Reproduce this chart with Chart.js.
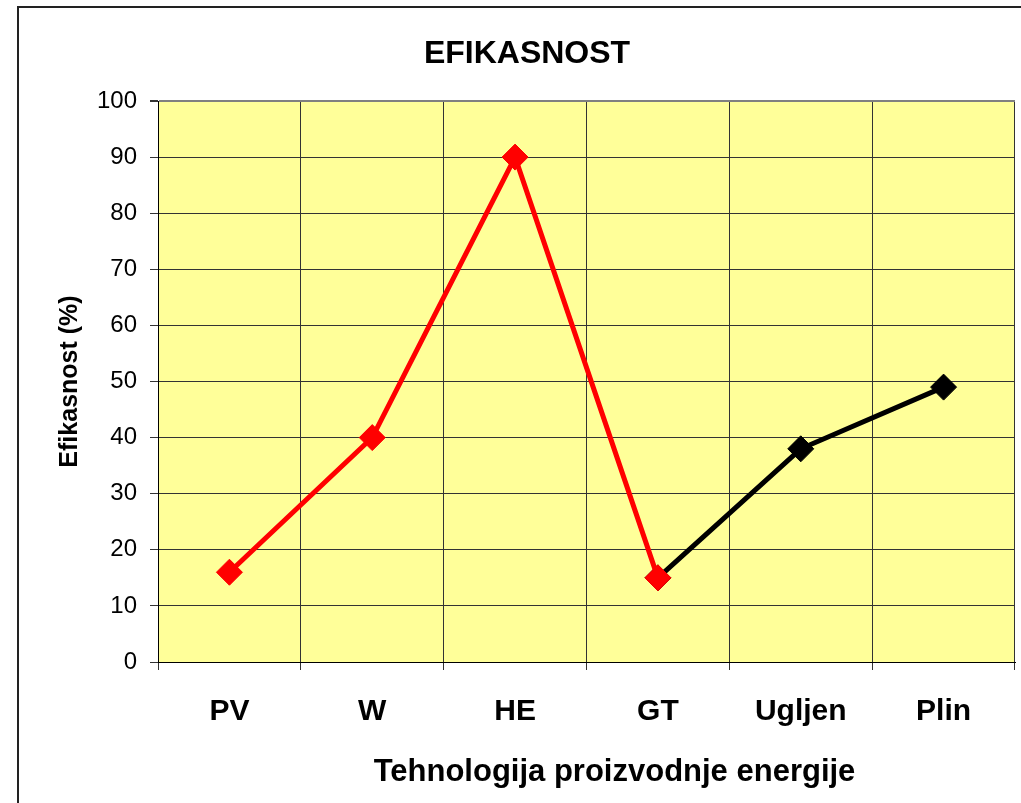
<!DOCTYPE html>
<html>
<head>
<meta charset="utf-8">
<title>Efikasnost</title>
<script src="https://cdn.jsdelivr.net/npm/chart.js@4.4.1/dist/chart.umd.min.js"></script>
<style>
  html, body { margin: 0; padding: 0; background: #fff; overflow: hidden; }
  #okvir { position: absolute; left: 17px; top: 6px; width: 1100px; height: 900px; border: 2px solid #222; }
  #graf { position: absolute; left: 0; top: 0; }
</style>
</head>
<body>
<div id="okvir"></div>
<canvas id="graf" width="1054" height="803"></canvas>
<script>
// podaci
var tehnologije = ["PV", "W", "HE", "GT", "Ugljen", "Plin"];
var obnovljivi = [16, 40, 90, 15, null, null];
var fosilni = [null, null, null, 15, 38, 49];
var yTicks = [0, 10, 20, 30, 40, 50, 60, 70, 80, 90, 100];

var font = "'Liberation Sans', Arial, sans-serif";

/* zuta pozadina podrucja grafa */
var pozadina = {
    id: "pozadina",
    beforeDraw: function (chart) {
        var a = chart.chartArea, ctx = chart.ctx;
        ctx.save();
        ctx.fillStyle = "#FFFF99";
        ctx.fillRect(a.left, a.top, a.right - a.left, a.bottom - a.top);
        ctx.restore();
    }
};

/* naslov grafa i naslov x osi - centrirani na cijeli okvir kao u Excelu */
var naslovi = {
    id: "naslovi",
    afterDraw: function (chart) {
        var a = chart.chartArea, ctx = chart.ctx;
        ctx.save();
        ctx.fillStyle = "#000";
        ctx.textAlign = "center";
        ctx.textBaseline = "alphabetic";
        ctx.font = "bold 32px " + font;
        ctx.fillText("EFIKASNOST", chart.width / 2, 63);
        ctx.font = "bold 31px " + font;
        ctx.fillText("Tehnologija proizvodnje energije", (a.left + a.right) / 2 + 28, 781);
        ctx.restore();
    }
};

var ctx = document.getElementById("graf");
var myChart = new Chart(ctx, {
    type: "line",
    data: {
        labels: tehnologije,
        datasets: [{
            label: "obnovljivi",
            data: obnovljivi,
            borderColor: "#FF0000",
            backgroundColor: "#FF0000",
            borderWidth: 5,
            pointStyle: "rectRot",
            pointRadius: 13,
            pointHoverRadius: 13,
            pointBorderWidth: 1,
            tension: 0,
            spanGaps: false
        }, {
            label: "fosilni",
            data: fosilni,
            borderColor: "#000000",
            backgroundColor: "#000000",
            borderWidth: 5,
            pointStyle: "rectRot",
            pointRadius: 13,
            pointHoverRadius: 13,
            pointBorderWidth: 1,
            tension: 0,
            spanGaps: false
        }]
    },
    options: {
        responsive: false,
        animation: false,
        layout: { padding: { left: 0, right: 39, top: 101, bottom: 0 } },
        plugins: {
            legend: { display: false },
            tooltip: { enabled: false },
            title: { display: false }
        },
        scales: {
            x: {
                offset: true,
                afterFit: function (s) { s.height = 141; },
                border: { color: "#000", width: 1 },
                grid: {
                    offset: true,
                    tickLength: 8,
                    color: function (c) { return c.index === tehnologije.length ? "#808080" : "#333"; },
                    lineWidth: function (c) { return c.index === tehnologije.length ? 2 : 1; },
                    tickColor: "#333"
                },
                ticks: {
                    color: "#000",
                    padding: 24,
                    font: { family: font, size: 30, weight: "bold" }
                }
            },
            y: {
                min: 0,
                max: 100,
                afterFit: function (s) { s.width = 158; },
                afterBuildTicks: function (s) { s.ticks = yTicks.map(function (v) { return { value: v }; }); },
                border: { color: "#000", width: 1 },
                grid: {
                    tickLength: 8,
                    color: function (c) { return c.tick && c.tick.value === 100 ? "#808080" : "#333"; },
                    lineWidth: function (c) { return c.tick && c.tick.value === 100 ? 2 : 1; },
                    tickColor: "#333"
                },
                ticks: {
                    color: "#000",
                    padding: 13,
                    font: { family: font, size: 24 }
                },
                title: {
                    display: true,
                    text: "Efikasnost (%)",
                    color: "#000",
                    font: { family: font, size: 25, weight: "bold" },
                    padding: { top: 55, bottom: 0 }
                }
            }
        }
    },
    plugins: [pozadina, naslovi]
});
</script>
</body>
</html>
